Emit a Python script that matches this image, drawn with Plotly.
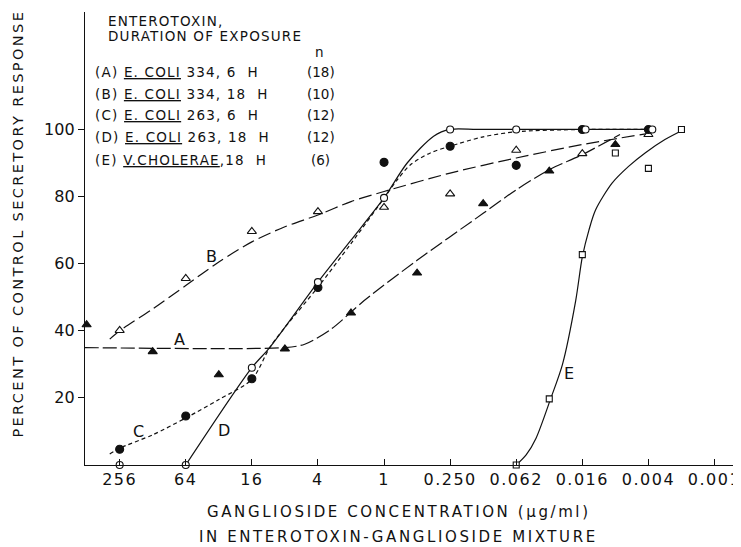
import math
import plotly.graph_objects as go

# ---------------- data ----------------
tick_conc = [256, 64, 16, 4, 1, 0.25, 0.0625, 0.015625, 0.00390625, 0.0009765625]
tick_text = ["256", "64", "16", "4", "1", "0.250", "0.062", "0.016", "0.004", "0.001"]
y_ticks = [20, 40, 60, 80, 100]

# measured points (ganglioside concentration, % of control response)
a_conc = [512, 128, 32, 8, 2, 0.5, 0.125, 0.03125, 0.0078125]
a_pct = [41.8, 33.8, 26.9, 34.6, 45.3, 57.2, 77.9, 87.6, 95.5]
b_conc = [256, 64, 16, 4, 1, 0.25, 0.0625, 0.015625, 0.00390625]
b_pct = [40.1, 55.6, 69.6, 75.5, 76.8, 80.8, 93.8, 92.8, 98.5]
c_conc = [256, 64, 16, 4, 1, 0.25, 0.0625, 0.015625, 0.00390625]
c_pct = [4.7, 14.6, 25.7, 52.9, 90.2, 95.0, 89.3, 100, 100]
d_conc = [256, 64, 16, 4, 1, 0.25, 0.0625, 0.0146, 0.0036]
d_pct = [0, 0, 29.0, 54.5, 79.6, 100, 100, 100, 100]
e_conc = [0.0625, 0.03125, 0.015625, 0.0078125, 0.00390625, 0.001953125]
e_pct = [0, 19.7, 62.7, 93.0, 88.4, 100]

# hand-drawn curves, read as (dilution step from 256, %)   conc = 256 / 4**step
curve_a_step = [-0.53, 2.5, 2.8, 3.2, 3.7, 4.5, 5.5, 6.0, 6.5, 7.0, 7.57]
curve_a_pct = [35, 35, 36, 40.5, 49, 61, 75, 82, 88, 92.5, 98.5]
curve_b_step = [-0.15, 0, 0.5, 1, 1.5, 2, 2.5, 3, 3.5, 4, 5, 6, 7, 8.05]
curve_b_pct = [37.5, 40, 46.5, 53.5, 60.5, 66.5, 71, 74.5, 78.5, 81.5, 87, 91.5, 95.5, 99]
curve_c_step = [-0.15, 0, 0.5, 1, 1.5, 2, 2.27, 2.5, 3, 3.5, 4, 4.2, 4.4, 4.7, 5, 5.5, 6, 7, 8]
curve_c_pct = [3.3, 5, 9, 14, 19.5, 25.5, 35, 41, 53, 66, 79.5, 85, 89.5, 93, 95, 97.8, 99.3, 100, 100]
curve_d_step = [1, 2, 2.27, 3, 3.5, 4, 4.35, 4.75, 5, 5.4, 6, 7.08, 8.08]
curve_d_pct = [0, 29, 35, 54.5, 67, 79.6, 90, 98, 100, 100, 100, 100, 100]
curve_e_step = [6, 6.15, 6.3, 6.52, 6.7, 6.9, 7.0, 7.1, 7.2, 7.45, 7.7, 7.95, 8.25, 8.54]
curve_e_pct = [0, 3, 8, 19.7, 30, 49, 62, 70, 76, 84, 89, 93, 97, 100]

curve_labels = ["A", "B", "C", "D", "E"]
label_conc = [73.5, 37, 174, 29, 0.0205]
label_pct = [37.3, 62, 10.1, 10.2, 27.4]

legend_rows = [
    ("(A) ", "E. COLI", " 334, 6 &nbsp;H", "(18)"),
    ("(B) ", "E. COLI", " 334, 18 &nbsp;H", "(10)"),
    ("(C) ", "E. COLI", " 263, 6 &nbsp;H", "(12)"),
    ("(D) ", "E. COLI", " 263, 18 &nbsp;H", "(12)"),
    ("(E) ", "V.CHOLERAE", ",18 &nbsp;H", "(6)"),
]


def to_conc(steps):
    return [256 / 4 ** s for s in steps]


FONT = "DejaVu Sans"
BLACK = "#111111"

fig = go.Figure()

curve_styles = [
    (curve_a_step, curve_a_pct, "14px,4px"),
    (curve_b_step, curve_b_pct, "13px,5px"),
    (curve_c_step, curve_c_pct, "4px,3px"),
    (curve_d_step, curve_d_pct, "solid"),
    (curve_e_step, curve_e_pct, "solid"),
]
for st, pc, dash in curve_styles:
    fig.add_trace(go.Scatter(
        x=to_conc(st), y=pc, mode="lines",
        line=dict(color=BLACK, width=1.2, dash=dash, shape="spline", smoothing=0.8),
        hoverinfo="skip", showlegend=False, cliponaxis=False))

marker_styles = [
    (a_conc, a_pct, "triangle-up", 8, BLACK),
    (b_conc, b_pct, "triangle-up", 8, "white"),
    (c_conc, c_pct, "circle", 8, BLACK),
    (d_conc, d_pct, "circle", 7, "white"),
    (e_conc, e_pct, "square", 6, "white"),
]
for xs, ys, sym, sz, fill in marker_styles:
    fig.add_trace(go.Scatter(
        x=xs, y=ys, mode="markers",
        marker=dict(symbol=sym, size=sz, color=fill, line=dict(color=BLACK, width=1.1)),
        showlegend=False, cliponaxis=False))

# curve letters (log axis -> annotation x in log10 units)
for lab, cx, cy in zip(curve_labels, label_conc, label_pct):
    fig.add_annotation(x=math.log10(cx), y=cy, xref="x", yref="y", text=lab, showarrow=False,
                       xanchor="center", yanchor="middle",
                       font=dict(family=FONT, size=16, color=BLACK))

# page pixel geometry of the plot area (page has an 8px body margin)
OFF = 8
L, R, T, B = 85, 741, 12, 465


def px(xp):
    return (xp - L) / (R - L)


def py(yp):
    return (B - yp) / (B - T)


def note(x, y, text, size, xanchor="left", angle=0):
    fig.add_annotation(x=px(x), y=py(y), xref="paper", yref="paper", xanchor=xanchor,
                       yanchor="middle", showarrow=False, text=text, textangle=angle,
                       font=dict(family=FONT, size=size, color=BLACK))


LS = "<span style='letter-spacing:1.2px'>{}</span>"
note(106, 21, LS.format("ENTEROTOXIN,"), 13.5)
note(106, 36, LS.format("DURATION OF EXPOSURE"), 13.5)
note(322, 52, "n", 13.5, "center")
row_y = [72, 93.5, 115, 137, 160]
for (pre, und, post, n), ry in zip(legend_rows, row_y):
    txt = ("<span style='letter-spacing:1.2px'>" + pre +
           "<span style='text-decoration:underline'>" + und + "</span>" + post + "</span>")
    note(93, ry, txt, 13.5)
    note(323, ry, n, 13.5, "center")

ts = "<span style='letter-spacing:2.6px'>{}</span>"
note(402, 512, ts.format("GANGLIOSIDE CONCENTRATION (μg/ml)"), 15, "center")
note(401, 537, ts.format("IN ENTEROTOXIN-GANGLIOSIDE MIXTURE"), 15, "center")
note(17, 224, "<span style='letter-spacing:2.4px'>PERCENT OF CONTROL SECRETORY RESPONSE</span>",
     14.5, "center", -90)

fig.update_layout(
    width=741 - OFF, height=547 - OFF,
    margin=dict(l=L - OFF, r=741 - R, t=T - OFF, b=547 - B),
    paper_bgcolor="white", plot_bgcolor="white",
    xaxis=dict(type="log", range=[2.724, -3.197], tickvals=tick_conc,
               ticktext=["<span style='letter-spacing:1.5px'>%s</span>" % t for t in tick_text],
               ticks="inside", ticklen=6, tickcolor=BLACK, showline=True, linecolor=BLACK,
               linewidth=1.3, showgrid=False, zeroline=False, ticklabeloverflow="allow",
               tickfont=dict(family=FONT, size=16, color=BLACK)),
    yaxis=dict(range=[0, 135], tickvals=y_ticks, ticks="outside", ticklen=6,
               tickcolor=BLACK, showline=True, linecolor=BLACK, linewidth=1.3,
               showgrid=False, zeroline=False,
               tickfont=dict(family=FONT, size=16, color=BLACK)),
)

fig.write_html("out.html")
